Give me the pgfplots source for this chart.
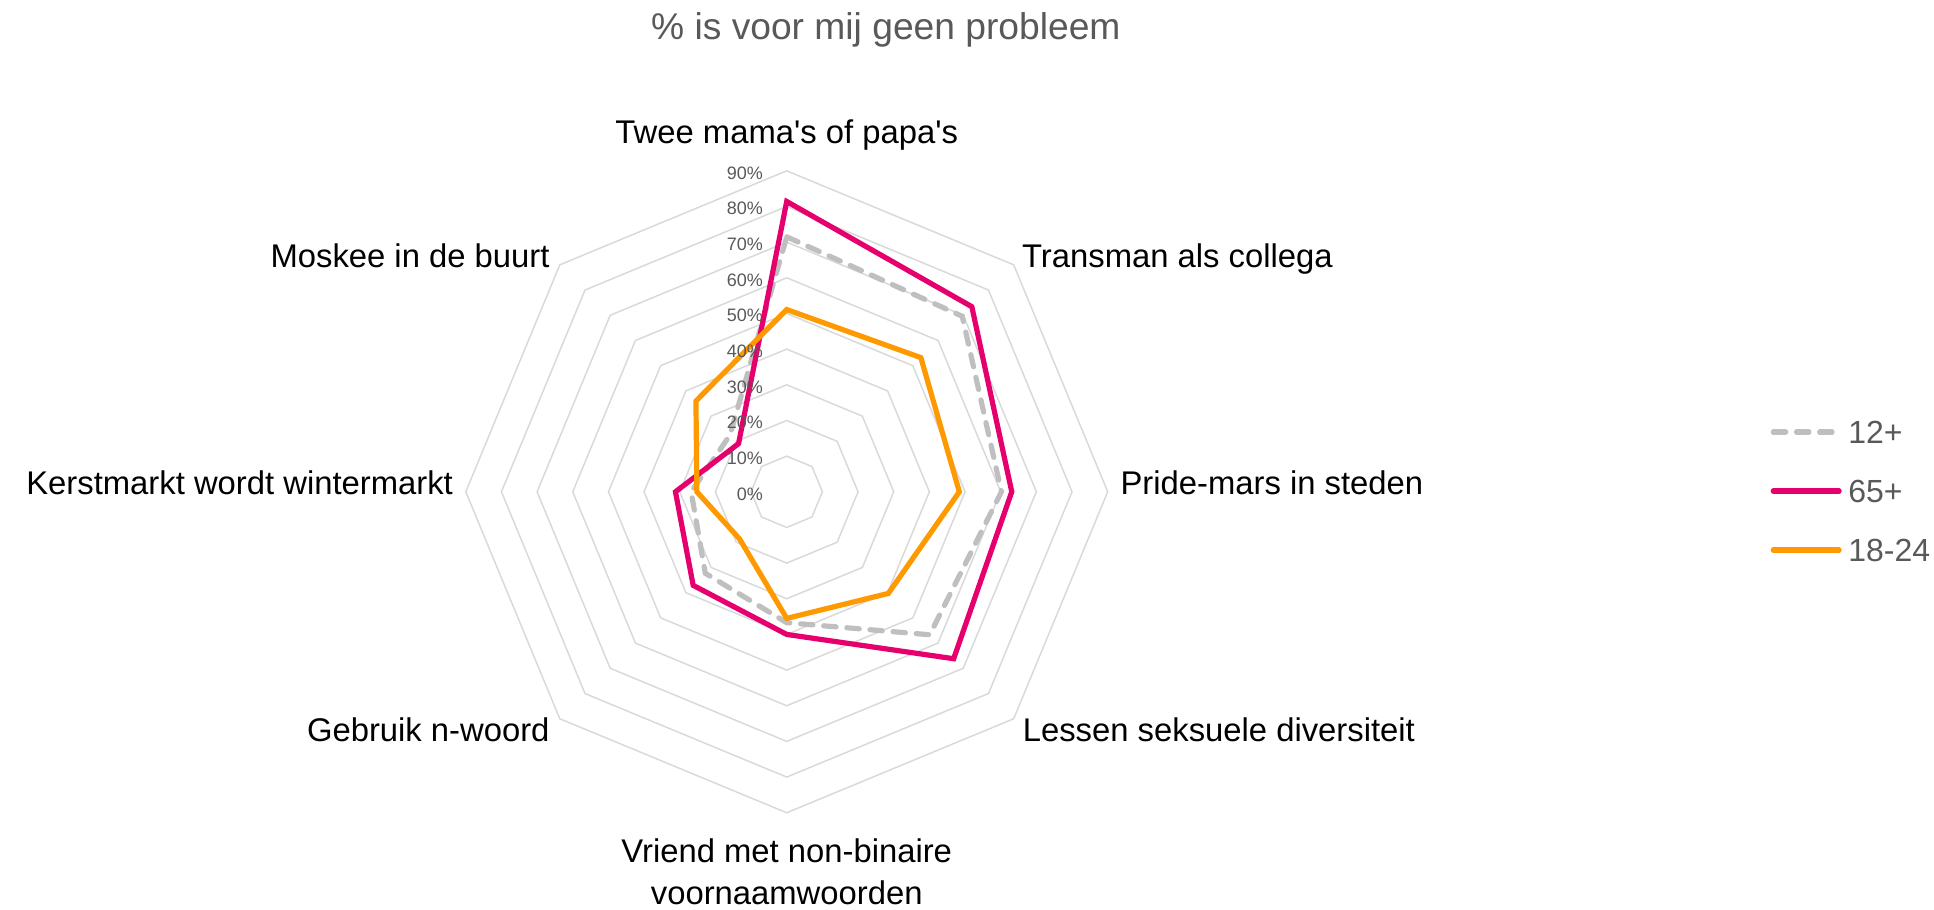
\documentclass[border=0pt]{standalone}
\usepackage{pgfplots}
\pgfplotsset{compat=1.18}
\usepackage{fontspec}
\setmainfont{Liberation Sans}
\definecolor{cmag}{HTML}{E6006E}
\definecolor{corange}{HTML}{FF9900}
\definecolor{cgray}{HTML}{BFBFBF}
\definecolor{cgrid}{HTML}{D9D9D9}
\definecolor{ctext}{HTML}{595959}
\newcommand{\lbl}{\fontsize{16.4}{20}\selectfont}
\begin{document}
\begin{tikzpicture}
\begin{axis}[
  x=1.783pt, y=1.783pt,
  xmin=-220.6, xmax=321.7, ymin=-117.0, ymax=137.9,
  hide axis, clip=false, scale only axis,
  legend style={at={(axis cs:275.9,0.2)}, anchor=west, draw=none, fill=none,
    inner sep=0pt, outer sep=0pt, row sep=18pt,
    font=\fontsize{16}{19}\selectfont\color{ctext},
    nodes={inner ysep=0pt, inner xsep=3.3pt, text height=11.5pt, text depth=0pt}},
  legend cell align=left,
  legend image code/.code={\draw[#1] (1.3pt,0pt) -- (34.2pt,0pt);},
]
% octagonal grid
\addplot[cgrid, line width=0.75pt, forget plot, data cs=polar] coordinates {(90,10)(45,10)(0,10)(-45,10)(-90,10)(-135,10)(180,10)(135,10)} -- cycle;
\addplot[cgrid, line width=0.75pt, forget plot, data cs=polar] coordinates {(90,20)(45,20)(0,20)(-45,20)(-90,20)(-135,20)(180,20)(135,20)} -- cycle;
\addplot[cgrid, line width=0.75pt, forget plot, data cs=polar] coordinates {(90,30)(45,30)(0,30)(-45,30)(-90,30)(-135,30)(180,30)(135,30)} -- cycle;
\addplot[cgrid, line width=0.75pt, forget plot, data cs=polar] coordinates {(90,40)(45,40)(0,40)(-45,40)(-90,40)(-135,40)(180,40)(135,40)} -- cycle;
\addplot[cgrid, line width=0.75pt, forget plot, data cs=polar] coordinates {(90,50)(45,50)(0,50)(-45,50)(-90,50)(-135,50)(180,50)(135,50)} -- cycle;
\addplot[cgrid, line width=0.75pt, forget plot, data cs=polar] coordinates {(90,60)(45,60)(0,60)(-45,60)(-90,60)(-135,60)(180,60)(135,60)} -- cycle;
\addplot[cgrid, line width=0.75pt, forget plot, data cs=polar] coordinates {(90,70)(45,70)(0,70)(-45,70)(-90,70)(-135,70)(180,70)(135,70)} -- cycle;
\addplot[cgrid, line width=0.75pt, forget plot, data cs=polar] coordinates {(90,80)(45,80)(0,80)(-45,80)(-90,80)(-135,80)(180,80)(135,80)} -- cycle;
\addplot[cgrid, line width=0.75pt, forget plot, data cs=polar] coordinates {(90,90)(45,90)(0,90)(-45,90)(-90,90)(-135,90)(180,90)(135,90)} -- cycle;
% series
\addplot[cgray, line width=2.6pt, line cap=round, dash pattern=on 6.2pt off 5.4pt, data cs=polar] coordinates {(90,71.5)(45,69.6)(0,60.2)(-45,56.7)(-90,36.7)(-135,32.3)(180,26.8)(135,22.5)} -- cycle;
\addlegendentry{12+}
\addplot[cmag, line width=2.6pt, line cap=round, data cs=polar] coordinates {(90,81.4)(45,73.4)(0,63.1)(-45,66.2)(-90,40.0)(-135,37.1)(180,31.2)(135,19.1)} -- cycle;
\addlegendentry{65+}
\addplot[corange, line width=2.6pt, line cap=round, data cs=polar] coordinates {(90,51.1)(45,53.2)(0,48.4)(-45,40.3)(-90,35.5)(-135,18.7)(180,25.2)(135,36.0)} -- cycle;
\addlegendentry{18-24}
% radial tick labels
\begin{scope}[every node/.style={anchor=east, inner sep=0pt, text=ctext, font=\fontsize{9}{10}\selectfont}]
\node at (axis cs:-6.6,-0.6) {0\%};
\node at (axis cs:-6.6,9.4) {10\%};
\node at (axis cs:-6.6,19.4) {20\%};
\node at (axis cs:-6.6,29.4) {30\%};
\node at (axis cs:-6.6,39.4) {40\%};
\node at (axis cs:-6.6,49.4) {50\%};
\node at (axis cs:-6.6,59.4) {60\%};
\node at (axis cs:-6.6,69.4) {70\%};
\node at (axis cs:-6.6,79.4) {80\%};
\node at (axis cs:-6.6,89.4) {90\%};
\end{scope}
% title
\node[anchor=base, inner sep=0pt, text=ctext, font=\fontsize{18.6}{22}\selectfont] at (axis cs:27.8,126.7) {\% is voor mij geen probleem};
% category labels
\begin{scope}[every node/.style={inner sep=0pt, text=black, font=\lbl}]
\node[anchor=base] at (axis cs:0,97.7) {Twee mama\textquotesingle s of papa\textquotesingle s};
\node[anchor=base west] at (axis cs:65.9,62.8) {Transman als collega};
\node[anchor=base west] at (axis cs:93.5,-0.9) {Pride-mars in steden};
\node[anchor=base west] at (axis cs:66.1,-69.9) {Lessen seksuele diversiteit};
\node[anchor=base] at (axis cs:0,-104.0) {Vriend met non-binaire};
\node[anchor=base] at (axis cs:0,-115.6) {voornaamwoorden};
\node[anchor=base east] at (axis cs:-66.4,-69.9) {Gebruik n-woord};
\node[anchor=base east] at (axis cs:-93.5,-0.9) {Kerstmarkt wordt wintermarkt};
\node[anchor=base east] at (axis cs:-66.4,62.8) {Moskee in de buurt};
\end{scope}
\coordinate (bl) at (axis cs:-220.6,-117.0);
\coordinate (tr) at (axis cs:321.7,137.9);
\end{axis}
\pgfresetboundingbox
\path[use as bounding box] (bl) rectangle (tr);
\end{tikzpicture}
\end{document}
